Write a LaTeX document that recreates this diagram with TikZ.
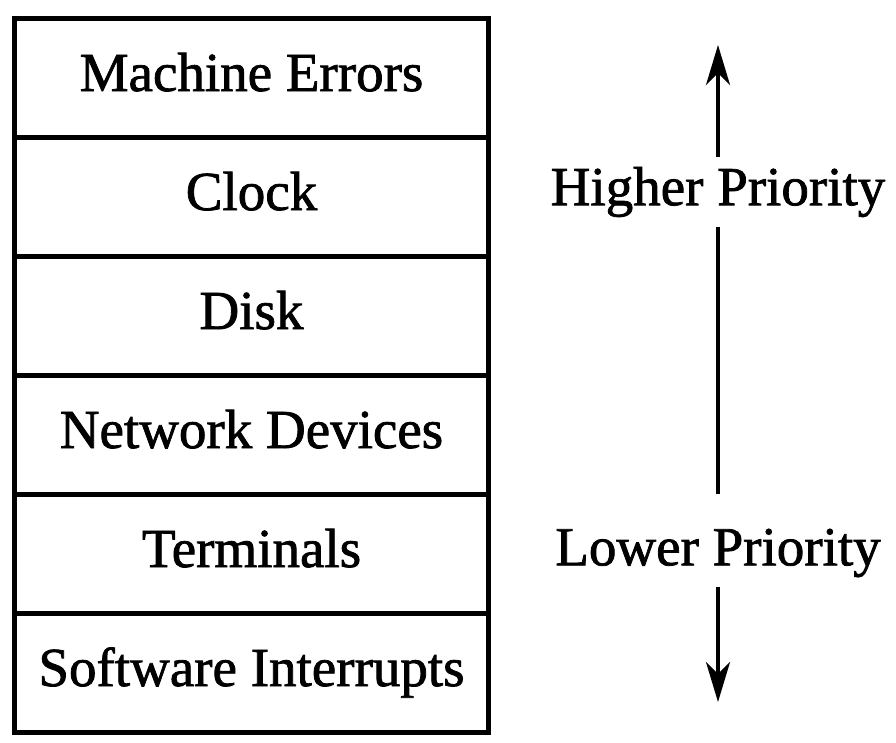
\documentclass[tikz,border=0pt]{standalone}
\usepackage{fontspec}
\setmainfont{Liberation Serif}[FakeBold=1.4]
\usetikzlibrary{arrows.meta}
\begin{document}
\begin{tikzpicture}[x=1pt,y=-1pt,
  rowbox/.style={draw, line width=5pt, minimum width=474pt, minimum height=119pt, anchor=north west, inner sep=0pt, text height=38pt, text depth=12pt, font=\fontsize{55}{60}\selectfont},
  prio/.style={font=\fontsize{55}{60}\selectfont, inner sep=0pt, outer sep=10pt},
  axis/.style={line width=4pt},
  tip/.style={-{Stealth[length=40pt,width=24pt,inset=12pt]}}]
\useasboundingbox (0,0) rectangle (896,742);
\node[rowbox] (r1) at (12,16) {Machine Errors};
\node[rowbox] (r2) at (12,135) {Clock};
\node[rowbox] (r3) at (12,254) {Disk};
\node[rowbox] (r4) at (12,373) {Network Devices};
\node[rowbox] (r5) at (12,492) {Terminals};
\node[rowbox] (r6) at (12,611) {Software Interrupts};
\node[prio] (hi) at (718,192) {Higher Priority};
\node[prio] (lo) at (718,553) {Lower Priority};
\coordinate (top) at (718,45);
\coordinate (bot) at (718,702);
\draw[axis,tip] (hi.north) -- (top);
\draw[axis] (hi.south) -- ([yshift=25pt]lo.north);
\draw[axis,tip] (lo.south) -- (bot);
\end{tikzpicture}
\end{document}
